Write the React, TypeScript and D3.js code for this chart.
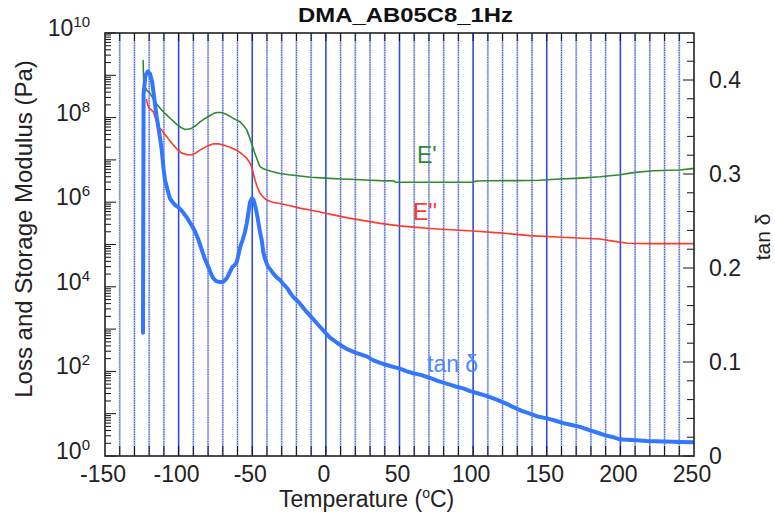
import React from 'react';
import * as d3 from 'd3';

const title = 'DMA_AB05C8_1Hz';
const xTicks = [-150, -100, -50, 0, 50, 100, 150, 200, 250];
const xMinorStep = 10;
const leftLabelDecades = [0, 2, 4, 6, 8, 10];
const rightTicks = [0, 0.1, 0.2, 0.3, 0.4];

// E' storage modulus: [temperature °C, log10(Pa)]
const storageLog10: [number, number][] = [
  [-124.1, 9.35], [-123.8, 8.9], [-122.5, 8.7], [-121.5, 8.64], [-120, 8.6], [-118.5, 8.52],
  [-117.2, 8.45], [-115, 8.33], [-112.6, 8.22], [-110, 8.12], [-108, 8.06], [-105, 7.96],
  [-101.3, 7.84], [-98, 7.76], [-95.7, 7.72], [-93, 7.73], [-91.1, 7.75], [-88, 7.82],
  [-85.5, 7.9], [-82, 7.98], [-78.7, 8.05], [-76, 8.1], [-74.1, 8.12], [-71, 8.12],
  [-68.5, 8.09], [-65.5, 8.04], [-62.9, 7.98], [-60.5, 7.94], [-58.3, 7.9], [-56, 7.82],
  [-53.8, 7.71], [-52, 7.55], [-50.4, 7.39], [-48.7, 7.2], [-47, 7.04], [-45.5, 6.9],
  [-44.7, 6.84], [-42.5, 6.79], [-40.2, 6.76], [-36, 6.72], [-31.2, 6.68], [-25, 6.65],
  [-17.6, 6.62], [-10, 6.59], [0, 6.57], [10, 6.55], [20, 6.535], [30, 6.52], [37, 6.51],
  [46, 6.505], [47.5, 6.47], [75, 6.47], [100, 6.47], [102, 6.5], [110, 6.508], [130, 6.51],
  [145, 6.52], [159, 6.55], [172.6, 6.57], [186.2, 6.6], [200, 6.65], [208.6, 6.7],
  [222.2, 6.745], [240.5, 6.76], [250, 6.8],
];

// E'' loss modulus: [temperature °C, log10(Pa)]
const lossLog10: [number, number][] = [
  [-121.8, 8.42], [-121, 8.3], [-120, 8.22], [-118.5, 8.18], [-117.2, 8.14], [-115.5, 7.96],
  [-113.8, 7.78], [-111.5, 7.71], [-110, 7.62], [-108, 7.55], [-106, 7.45], [-103.6, 7.35],
  [-101, 7.25], [-97.9, 7.16], [-94, 7.12], [-91.1, 7.12], [-88, 7.17], [-85.5, 7.23],
  [-81, 7.32], [-76.4, 7.38], [-73, 7.38], [-69.7, 7.35], [-65, 7.3], [-60.6, 7.23],
  [-57, 7.14], [-53.8, 7.04], [-51.5, 6.92], [-50.4, 6.84], [-48.1, 6.52], [-46.5, 6.35],
  [-44.7, 6.21], [-42, 6.1], [-40.2, 6.05], [-36, 6.0], [-31.2, 5.97], [-25, 5.92],
  [-17.6, 5.86], [-10, 5.81], [-4, 5.77], [5, 5.7], [15, 5.63], [25, 5.57], [37, 5.5],
  [50, 5.44], [60, 5.41], [70.7, 5.38], [85, 5.35], [100, 5.32], [120, 5.27], [138.6, 5.21],
  [160, 5.17], [186, 5.13], [195, 5.08], [205, 5.03], [220, 5.02], [250, 5.02],
];

// tan delta: [temperature °C, tan δ]
const tanDelta: [number, number][] = [
  [-124.2, 0.131], [-123.8, 0.385], [-122.5, 0.405], [-121, 0.409], [-119.5, 0.407],
  [-118, 0.398], [-116.5, 0.38], [-115, 0.362], [-113.8, 0.35], [-112.5, 0.337],
  [-111.5, 0.326], [-110.2, 0.305], [-109.3, 0.294], [-108, 0.286], [-107, 0.28],
  [-105.9, 0.274], [-104, 0.27], [-102.5, 0.267], [-100.5, 0.265], [-99.1, 0.263],
  [-97.9, 0.261], [-96, 0.257], [-94.5, 0.254], [-93, 0.25], [-91, 0.245], [-88.9, 0.239],
  [-87, 0.232], [-85.5, 0.225], [-84, 0.218], [-82.5, 0.211], [-80.9, 0.205], [-79, 0.198],
  [-77.5, 0.192], [-76.4, 0.189], [-74.5, 0.186], [-72, 0.185], [-70, 0.185], [-68.5, 0.187],
  [-67, 0.19], [-65.1, 0.196], [-63.5, 0.201], [-62, 0.203], [-60.6, 0.206], [-59.5, 0.213],
  [-58.3, 0.222], [-56.5, 0.23], [-55, 0.238], [-53.8, 0.247], [-52.5, 0.26], [-51.5, 0.27],
  [-50.2, 0.274], [-49.3, 0.273], [-48, 0.266], [-47, 0.259], [-46, 0.25], [-44.7, 0.238],
  [-43.6, 0.23], [-42.5, 0.217], [-41.4, 0.21], [-39.5, 0.202], [-37.5, 0.198],
  [-35.7, 0.194], [-33.4, 0.19], [-31, 0.187], [-28.9, 0.183], [-26, 0.178], [-24, 0.173],
  [-22.1, 0.169], [-20, 0.166], [-17.6, 0.162], [-14, 0.155], [-10, 0.148], [-6, 0.141],
  [-2, 0.134], [2.8, 0.126], [8, 0.12], [14, 0.114], [20, 0.11], [27.7, 0.106], [32, 0.102],
  [36.8, 0.099], [43, 0.096], [50.3, 0.093], [55, 0.09], [59.4, 0.088], [65, 0.086],
  [70.7, 0.083], [76, 0.08], [82, 0.077], [88, 0.074], [93.3, 0.072], [98, 0.069],
  [102.4, 0.067], [109, 0.064], [116, 0.06], [122, 0.056], [127.3, 0.052], [133, 0.048],
  [138.6, 0.045], [144, 0.042], [149.9, 0.04], [155, 0.038], [161.2, 0.035], [167, 0.033],
  [172.6, 0.031], [178, 0.028], [183.9, 0.025], [190, 0.022], [195.2, 0.02], [199, 0.018],
  [202, 0.0175], [208, 0.017], [217.9, 0.016], [230, 0.0155], [240.5, 0.015], [250, 0.0146],
];

const W = 775;
const H = 515;
const L = 105;
const R = 694;
const T = 33;
const B = 456;
const FONT = '"Liberation Sans", Arial, Helvetica, sans-serif';

export default function App() {
  const x = d3.scaleLinear().domain([-150, 250]).range([L, R]);
  const yL = d3.scaleLog().domain([1, 1e10]).range([B, T]);
  const yR = d3.scaleLinear().domain([0, 0.45]).range([B, T]);

  const lineL = d3
    .line<[number, number]>()
    .x((d) => x(d[0]))
    .y((d) => yL(Math.pow(10, d[1])));
  const lineR = d3
    .line<[number, number]>()
    .x((d) => x(d[0]))
    .y((d) => yR(d[1]));

  const gridVals = d3.range(-140, 250, xMinorStep);
  const leftMinor: number[] = [];
  for (let e = 0; e < 10; e++) for (let m = 2; m <= 9; m++) leftMinor.push(m * Math.pow(10, e));
  const leftMajor = d3.range(0, 11).map((e) => Math.pow(10, e));
  const rightMinor = d3.range(0, 0.45, 0.02);

  return (
    <svg
      width={W}
      height={H}
      style={{ position: 'absolute', left: 0, top: 0, background: '#fff' }}
      fontFamily={FONT}
    >
      <rect x={0} y={0} width={W} height={H} fill="#fff" />
      <defs>
        <clipPath id="plotClip">
          <rect x={L} y={T} width={R - L} height={B - T} />
        </clipPath>
      </defs>

      {/* grid */}
      {gridVals.map((v) => {
        const px = x(v);
        const solid = v % 50 === 0;
        return solid ? (
          <line key={v} x1={px} x2={px} y1={T} y2={B} stroke="#2f4fcc" strokeWidth={1.6} />
        ) : (
          <g key={v}>
            <line x1={px} x2={px} y1={T} y2={B} stroke="#c3c7dc" strokeWidth={2} />
            <line x1={px} x2={px} y1={T} y2={B} stroke="#2a4cf0" strokeWidth={1} strokeDasharray="1.2,1.2" />
          </g>
        );
      })}

      {/* bottom / top ticks */}
      {gridVals.map((v) => (
        <g key={'t' + v}>
          <line x1={x(v)} x2={x(v)} y1={B} y2={B - 10} stroke="#111" strokeWidth={1} />
          <line x1={x(v)} x2={x(v)} y1={T} y2={T + 8} stroke="#111" strokeWidth={1} />
        </g>
      ))}

      {/* left ticks */}
      {leftMajor.map((v) => (
        <line key={'lm' + v} x1={L} x2={L + 11} y1={yL(v)} y2={yL(v)} stroke="#111" strokeWidth={1} />
      ))}
      {leftMinor.map((v) => (
        <line key={'ln' + v} x1={L} x2={L + 6} y1={yL(v)} y2={yL(v)} stroke="#111" strokeWidth={1} />
      ))}

      {/* right ticks */}
      {rightMinor.map((v, i) => (
        <line
          key={'r' + i}
          x1={R}
          x2={R - (i % 5 === 0 ? 11 : 7)}
          y1={yR(v)}
          y2={yR(v)}
          stroke="#111"
          strokeWidth={1}
        />
      ))}

      {/* data */}
      <g clipPath="url(#plotClip)" fill="none" strokeLinejoin="round" strokeLinecap="round">
        <path d={lineL(storageLog10) || ''} stroke="#2e8a2e" strokeWidth={1.6} />
        <path d={lineL(lossLog10) || ''} stroke="#ff3a2a" strokeWidth={1.6} />
        <path d={lineR(tanDelta) || ''} stroke="#3377ff" strokeWidth={4} />
      </g>

      {/* frame */}
      <rect x={L} y={T} width={R - L} height={B - T} fill="none" stroke="#222" strokeWidth={1.6} />

      {/* x tick labels */}
      {xTicks.map((v) => (
        <text key={'xl' + v} x={x(v) - 2} y={482} fontSize={23} textAnchor="middle" fill="#222">
          {v}
        </text>
      ))}

      {/* left tick labels */}
      {leftLabelDecades.map((e) => (
        <text key={'yl' + e} x={90} y={yL(Math.pow(10, e)) + 3} fontSize={23} textAnchor="end" fill="#222">
          10
          <tspan dy={-9} fontSize={15}>
            {e}
          </tspan>
        </text>
      ))}

      {/* right tick labels */}
      {rightTicks.map((v) => (
        <text key={'yr' + v} x={709} y={yR(v) + 8} fontSize={23} fill="#222">
          {v === 0 ? '0' : v.toFixed(1)}
        </text>
      ))}

      {/* titles */}
      <text x={298} y={22} fontSize={21} fontWeight="bold" textLength={215} lengthAdjust="spacingAndGlyphs" fill="#111">
        {title}
      </text>
      <text x={279} y={507} fontSize={23} fill="#222">
        Temperature (<tspan dy={-9} fontSize={14}>o</tspan>
        <tspan dy={9}>C)</tspan>
      </text>
      <text transform="translate(32,229) rotate(-90)" fontSize={24} textAnchor="middle" fill="#222">
        Loss and Storage Modulus (Pa)
      </text>
      <text transform="translate(770,237) rotate(-90)" fontSize={21} textAnchor="middle" fill="#222">
        tan δ
      </text>

      {/* series labels */}
      <text x={417} y={163} fontSize={23} fill="#2e8a2e">E'</text>
      <text x={413} y={220} fontSize={23} fill="#ff3a2a">E''</text>
      <text x={427} y={372} fontSize={23} fill="#4d88ff">tan δ</text>
    </svg>
  );
}
